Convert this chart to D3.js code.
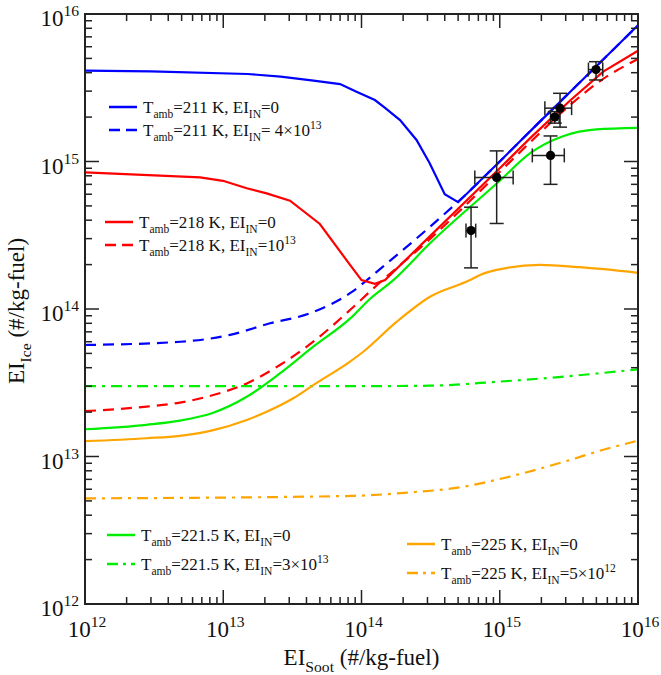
<!DOCTYPE html>
<html lang="en">
<head>
<meta charset="UTF-8">
<script src="https://d3js.org/d3.v7.min.js"></script>
<style>
  body { margin: 0; background: #fff; }
  text { font-family: "Liberation Serif", "Times New Roman", serif; fill: #111; }
</style>
</head>
<body>
<script>
// ---- data: [EI_soot, EI_ice] ----
var blue211 = [[1e12,4.13e15],[3e12,4.08e15],[1.5e13,3.92e15],[2.6e13,3.76e15],[4.5e13,3.53e15],[7e13,3.35e15],
  [9.2e13,2.97e15],[1.25e14,2.61e15],[1.48e14,2.31e15],[1.9e14,1.91e15],[2.5e14,1.40e15],[3.1e14,9.8e14],
  [4e14,6.0e14],[5e14,5.3e14],[1e15,1.0e15],[1.8e15,1.73e15],[3.2e15,2.94e15],[5.6e15,4.91e15],[1e16,8.4e15]];
var blue211IN = [[1e12,5.7e13],[4.9e12,6.0e13],[1.12e13,6.67e13],[2.18e13,8.0e13],[4.24e13,9.35e13],[8.26e13,1.28e14],
  [1.43e14,1.94e14],[3.13e14,3.61e14],[5.15e14,5.48e14],[1e15,1.0e15],[1.8e15,1.73e15],[3.2e15,2.94e15],[5.6e15,4.91e15],[1e16,8.4e15]];
var red218 = [[1e12,8.45e14],[6.8e12,7.8e14],[9.95e12,7.4e14],[1.48e13,6.58e14],[2.06e13,6.08e14],[3.04e13,5.42e14],
  [5e13,3.77e14],[8.26e13,1.99e14],[1e14,1.57e14],[1.25e14,1.48e14],[1.48e14,1.57e14],[3e14,3.0e14],
  [1e15,9.0e14],[1.66e15,1.44e15],[3.2e15,2.57e15],[5.6e15,4.07e15],[1e16,5.64e15]];
var red218IN = [[1e12,2.03e13],[2.79e12,2.18e13],[4.86e12,2.32e13],[8.47e12,2.61e13],[1.48e13,3.13e13],[2.57e13,4.17e13],
  [4.48e13,6.0e13],[8.26e13,9.84e13],[1.22e14,1.38e14],[3e14,2.88e14],[1e15,8.5e14],[1.66e15,1.35e15],
  [3.2e15,2.4e15],[5.6e15,3.63e15],[1e16,4.95e15]];
var green2215 = [[1e12,1.53e13],[2.79e12,1.64e13],[4.86e12,1.75e13],[8.47e12,1.98e13],[1.48e13,2.54e13],[2.57e13,3.66e13],
  [4.48e13,5.55e13],[8.26e13,8.6e13],[1.15e14,1.17e14],[1.7e14,1.57e14],[3.13e14,2.79e14],[1e15,7.4e14],
  [1.66e15,1.14e15],[2.9e15,1.49e15],[5e15,1.65e15],[1e16,1.69e15]];
var green2215IN = [[1e12,3.0e13],[1e14,3.0e13],[3.1e14,3.02e13],[9.5e14,3.21e13],[2.9e15,3.48e13],[1e16,3.9e13]];
var orange225 = [[1e12,1.27e13],[2.79e12,1.33e13],[4.86e12,1.38e13],[8.47e12,1.51e13],[1.48e13,1.77e13],[2.06e13,2.01e13],
  [3.21e13,2.48e13],[4.48e13,3.05e13],[8.26e13,4.4e13],[1.03e14,5.13e13],[1.8e14,8.2e13],[3.13e14,1.21e14],
  [6.1e14,1.57e14],[7.2e14,1.70e14],[9.5e14,1.84e14],[1.95e15,1.99e14],[3.8e15,1.92e14],[1e16,1.76e14]];
var orange225IN = [[1e12,5.2e12],[8.26e13,5.4e12],[1.8e14,5.62e12],[5.45e14,6.24e12],[1.32e15,7.5e12],
  [2.9e15,9.2e12],[5.6e15,1.11e13],[1e16,1.28e13]];

// measurements: x, y, x low, x high, y low, y high
var measured = [
  [6.2e14,3.4e14,5.7e14,6.7e14,1.9e14,4.9e14],
  [9.5e14,7.8e14,6.6e14,1.25e15,3.8e14,1.18e15],
  [2.33e15,1.1e15,1.72e15,2.93e15,7.0e14,1.49e15],
  [2.5e15,2.0e15,2.33e15,2.69e15,1.82e15,2.18e15],
  [2.73e15,2.3e15,2.12e15,3.31e15,1.71e15,2.9e15],
  [4.97e15,4.2e15,4.38e15,5.56e15,3.57e15,4.75e15]
];

var decades = [12, 13, 14, 15, 16];

var series = [
  {d: blue211,     color: "#0000ff", dash: null,        curve: d3.curveLinear,
   label: "T_{amb}=211 K, EI_{IN}=0", lx: 109, ly: 107},
  {d: blue211IN,   color: "#0000ff", dash: "11,7",      curve: d3.curveMonotoneX,
   label: "T_{amb}=211 K, EI_{IN}= 4×10^{13}", lx: 109, ly: 130},
  {d: red218,      color: "#ff0000", dash: null,        curve: d3.curveLinear,
   label: "T_{amb}=218 K, EI_{IN}=0", lx: 105, ly: 222},
  {d: red218IN,    color: "#ff0000", dash: "11,7",      curve: d3.curveMonotoneX,
   label: "T_{amb}=218 K, EI_{IN}=10^{13}", lx: 105, ly: 245},
  {d: green2215,   color: "#00ee00", dash: null,        curve: d3.curveMonotoneX,
   label: "T_{amb}=221.5 K, EI_{IN}=0", lx: 107, ly: 535},
  {d: green2215IN, color: "#00ee00", dash: "11,6,3,6",  curve: d3.curveMonotoneX,
   label: "T_{amb}=221.5 K, EI_{IN}=3×10^{13}", lx: 107, ly: 564},
  {d: orange225,   color: "#ffa500", dash: null,        curve: d3.curveMonotoneX,
   label: "T_{amb}=225 K, EI_{IN}=0", lx: 407, ly: 544},
  {d: orange225IN, color: "#ffa500", dash: "11,6,3,6",  curve: d3.curveMonotoneX,
   label: "T_{amb}=225 K, EI_{IN}=5×10^{12}", lx: 407, ly: 573}
];

var W = 661, H = 675;
var L = 85, R = 638, T = 14, B = 604;

var svg = d3.select("body").append("svg").attr("width", W).attr("height", H);

var x = d3.scaleLog().domain([1e12, 1e16]).range([L, R]);
var y = d3.scaleLog().domain([1e12, 1e16]).range([B, T]);

// writes "a_{sub}b^{sup}" as tspans
function rich(t, str, size) {
  t.attr("font-family", "'Liberation Serif', 'Times New Roman', serif");
  var parts = str.split(/(_\{[^}]*\}|\^\{[^}]*\})/).filter(function(s){ return s.length; });
  var shift = 0;
  parts.forEach(function(p) {
    var ts = t.append("tspan");
    var target = 0, txt = p, fs = size;
    if (p[0] === "_") { target = size * 0.32; txt = p.slice(2, -1); fs = size * 0.68; }
    else if (p[0] === "^") { target = -size * 0.42; txt = p.slice(2, -1); fs = size * 0.68; }
    ts.attr("dy", target - shift).attr("font-size", fs).text(txt);
    shift = target;
  });
}

// curves
var line = d3.line().x(function(d){ return x(d[0]); }).y(function(d){ return y(d[1]); });
var plot = svg.append("g");
series.forEach(function(s) {
  plot.append("path")
    .attr("d", line.curve(s.curve)(s.d))
    .attr("fill", "none")
    .attr("stroke", s.color)
    .attr("stroke-width", 2.2)
    .attr("stroke-dasharray", s.dash);
});

// error bars + dots
var cap = 7;
var eb = svg.append("g").attr("stroke", "#222").attr("stroke-width", 1.5);
measured.forEach(function(m) {
  var cx = x(m[0]), cy = y(m[1]);
  eb.append("line").attr("x1", x(m[2])).attr("x2", x(m[3])).attr("y1", cy).attr("y2", cy);
  eb.append("line").attr("x1", cx).attr("x2", cx).attr("y1", y(m[4])).attr("y2", y(m[5]));
  [m[2], m[3]].forEach(function(v) {
    eb.append("line").attr("x1", x(v)).attr("x2", x(v)).attr("y1", cy - cap).attr("y2", cy + cap);
  });
  [m[4], m[5]].forEach(function(v) {
    eb.append("line").attr("x1", cx - cap).attr("x2", cx + cap).attr("y1", y(v)).attr("y2", y(v));
  });
});
svg.append("g").selectAll("circle").data(measured).enter().append("circle")
  .attr("cx", function(d){ return x(d[0]); })
  .attr("cy", function(d){ return y(d[1]); })
  .attr("r", 4.6)
  .attr("fill", "#000");

// ticks (inward, all four sides)
var ticks = [];
decades.forEach(function(e, i) {
  ticks.push({v: Math.pow(10, e), major: true});
  if (i < decades.length - 1) for (var k = 2; k <= 9; k++) ticks.push({v: k * Math.pow(10, e), major: false});
});
var tg = svg.append("g").attr("stroke", "#222").attr("stroke-width", 1.5);
ticks.forEach(function(t) {
  var len = t.major ? 14 : 7;
  var px = x(t.v), py = y(t.v);
  tg.append("line").attr("x1", px).attr("x2", px).attr("y1", B).attr("y2", B - len);
  tg.append("line").attr("x1", px).attr("x2", px).attr("y1", T).attr("y2", T + len);
  tg.append("line").attr("y1", py).attr("y2", py).attr("x1", L).attr("x2", L + len);
  tg.append("line").attr("y1", py).attr("y2", py).attr("x1", R).attr("x2", R - len);
});
svg.append("rect").attr("x", L).attr("y", T).attr("width", R - L).attr("height", B - T)
  .attr("fill", "none").attr("stroke", "#222").attr("stroke-width", 2);

// tick labels
decades.forEach(function(e) {
  var v = Math.pow(10, e);
  rich(svg.append("text").attr("x", x(v) + 2).attr("y", 637).attr("text-anchor", "middle").attr("font-size", 23), "10^{" + e + "}", 23);
  rich(svg.append("text").attr("x", 79).attr("y", y(v) + 12).attr("text-anchor", "end").attr("font-size", 23), "10^{" + e + "}", 23);
});

// axis titles
rich(svg.append("text").attr("x", (L + R) / 2).attr("y", 665).attr("text-anchor", "middle").attr("font-size", 23),
  "EI_{Soot} (#/kg-fuel)", 23);
rich(svg.append("text").attr("transform", "translate(24," + ((T + B) / 2 + 2) + ") rotate(-90)")
  .attr("text-anchor", "middle").attr("font-size", 23), "EI_{Ice} (#/kg-fuel)", 23);

// legend
var lg = svg.append("g");
series.forEach(function(s) {
  lg.append("line").attr("x1", s.lx).attr("x2", s.lx + 28).attr("y1", s.ly).attr("y2", s.ly)
    .attr("stroke", s.color).attr("stroke-width", 2.5).attr("stroke-dasharray", s.dash ? (s.dash.split(",").length > 2 ? "11,5,3,5" : "11,6") : null);
  rich(lg.append("text").attr("x", s.lx + 34).attr("y", s.ly + 6).attr("font-size", 17), s.label, 17);
});
</script>
</body>
</html>
